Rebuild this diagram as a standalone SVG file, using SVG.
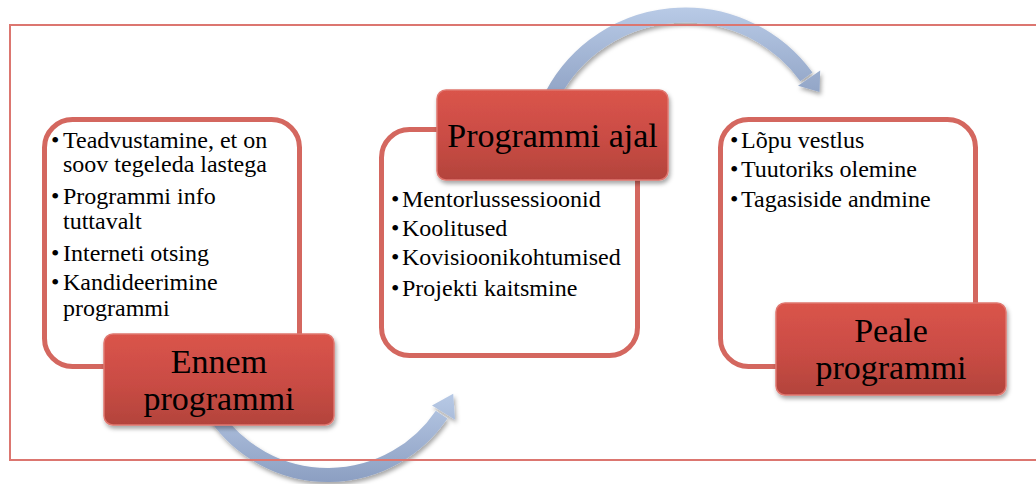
<svg xmlns="http://www.w3.org/2000/svg" width="1036" height="484" viewBox="0 0 1036 484">
  <defs>
    <linearGradient id="redFill" x1="0" y1="0" x2="0" y2="1">
      <stop offset="0" stop-color="#da544b"/>
      <stop offset="0.55" stop-color="#c94c44"/>
      <stop offset="1" stop-color="#b3433c"/>
    </linearGradient>
    <linearGradient id="arcTop" gradientUnits="userSpaceOnUse" x1="0" y1="8" x2="0" y2="100">
      <stop offset="0" stop-color="#b8cae6"/>
      <stop offset="1" stop-color="#8fa2c4"/>
    </linearGradient>
    <linearGradient id="arcBottom" gradientUnits="userSpaceOnUse" x1="0" y1="390" x2="0" y2="484">
      <stop offset="0" stop-color="#b9cbe7"/>
      <stop offset="1" stop-color="#8b9ec1"/>
    </linearGradient>
    <filter id="shadow" x="-10%" y="-10%" width="130%" height="140%">
      <feDropShadow dx="1.5" dy="3" stdDeviation="2" flood-color="#000" flood-opacity="0.35"/>
    </filter>
  </defs>
  <style>
    .panel { fill: #ffffff; stroke: #d4675f; stroke-width: 5; }
    .title { fill: url(#redFill); stroke: #e0776f; stroke-width: 1.5; filter: url(#shadow); }
    .head { font-size: 34px; fill: #000; text-anchor: middle; }
    .item { font-size: 24px; fill: #000; }
    .frame { fill: none; stroke: #dc7670; stroke-width: 2; }
  </style>

  <!-- curved arrows between the phases -->
  <g id="connectors">
    <g filter="url(#shadow)">
      <path d="M 549.1 101.6 A 150 150 0 0 1 806.4 76.8" fill="none" stroke="url(#arcTop)" stroke-width="15"/>
      <polygon points="798,85.8 820.2,70.4 819.5,92" fill="url(#arcTop)"/>
    </g>
    <g filter="url(#shadow)">
      <path d="M 215.8 416.6 A 137 137 0 0 0 441.6 414.6" fill="none" stroke="url(#arcBottom)" stroke-width="14"/>
      <polygon points="432,405.5 455,419.7 453.2,393.7" fill="url(#arcBottom)"/>
    </g>
  </g>

  <!-- phase 1: before the programme -->
  <g id="before" font-family="'Liberation Serif', 'Times New Roman', serif">
    <rect class="panel" x="44.5" y="119.5" width="255" height="247" rx="28"/>
    <text class="item" x="51" y="148">•</text>
    <text class="item" x="63" y="148">Teadvustamine, et on</text>
    <text class="item" x="63" y="172">soov tegeleda lastega</text>
    <text class="item" x="51" y="204">•</text>
    <text class="item" x="63" y="204">Programmi info</text>
    <text class="item" x="63" y="229">tuttavalt</text>
    <text class="item" x="51" y="261">•</text>
    <text class="item" x="63" y="261">Interneti otsing</text>
    <text class="item" x="51" y="290">•</text>
    <text class="item" x="63" y="290">Kandideerimine</text>
    <text class="item" x="63" y="316">programmi</text>
    <rect class="title" x="104" y="334" width="230" height="91" rx="9"/>
    <text class="head" x="219" y="373">Ennem</text>
    <text class="head" x="219" y="410">programmi</text>
  </g>

  <!-- phase 2: during the programme -->
  <g id="during" font-family="'Liberation Serif', 'Times New Roman', serif">
    <rect class="panel" x="381.5" y="129.5" width="256" height="226" rx="28"/>
    <text class="item" x="391" y="207">•</text>
    <text class="item" x="402" y="207">Mentorlussessioonid</text>
    <text class="item" x="391" y="236">•</text>
    <text class="item" x="402" y="236">Koolitused</text>
    <text class="item" x="391" y="265">•</text>
    <text class="item" x="402" y="265">Kovisioonikohtumised</text>
    <text class="item" x="391" y="296">•</text>
    <text class="item" x="402" y="296">Projekti kaitsmine</text>
    <rect class="title" x="437" y="90" width="231" height="90" rx="9"/>
    <text class="head" x="552.5" y="147">Programmi ajal</text>
  </g>

  <!-- phase 3: after the programme -->
  <g id="after" font-family="'Liberation Serif', 'Times New Roman', serif">
    <rect class="panel" x="720.5" y="119.5" width="255" height="247" rx="28"/>
    <text class="item" x="730" y="148">•</text>
    <text class="item" x="741" y="148">Lõpu vestlus</text>
    <text class="item" x="730" y="177">•</text>
    <text class="item" x="741" y="177">Tuutoriks olemine</text>
    <text class="item" x="730" y="207">•</text>
    <text class="item" x="741" y="207">Tagasiside andmine</text>
    <rect class="title" x="776" y="303" width="230" height="92" rx="9"/>
    <text class="head" x="891" y="342">Peale</text>
    <text class="head" x="891" y="379">programmi</text>
  </g>

  <!-- outer frame -->
  <path class="frame" d="M 1040 25 L 10 25 L 10 460 L 1040 460"/>
</svg>
